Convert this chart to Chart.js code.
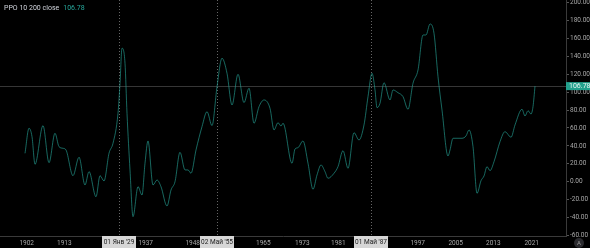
<!DOCTYPE html>
<html><head><meta charset="utf-8">
<style>html,body{margin:0;padding:0;background:#000;}#wrap{width:590px;height:248px;position:relative;}canvas{display:block;}</style>
<script src="https://cdn.jsdelivr.net/npm/chart.js@4/dist/chart.umd.min.js"></script>
</head><body><div id="wrap"><canvas id="c" width="590" height="248"></canvas></div>
<script>
// Series: bar index (TradingView bar-spaced axis) and PPO value
const bars = [0,4,7,10,18,24,30,34,38,41,48,54,60,64,71,75,79,84,88,93,95,97,100,102,105,108,113,117,120,123,128,132,136,142,146,150,155,160,163,166,171,177,182,187,192,197,202,207,213,219,224,229,234,239,245,249,253,256,258,267,270,273,278,283,288,292,296,300,303,309,313,318,323,329,334,339,343,347,350,352,355,359,365,368,373,378,383,388,393,398,401,405,409,413,417,423,425,428,437,441,444,448,452,456,459,462,465,469,475,480,486,490,497,500,503,506,508,510];
const values = [31.7,59.7,50.3,19.4,62.6,21.2,54.1,39.1,37.3,35.4,6.7,27.3,-3.7,11.2,-16.8,6.7,0.8,31.7,42.9,76.4,109.9,149.1,132.3,76.4,13.1,-39.1,-5.6,-14.9,20.6,45.5,-3.7,1.9,-5.6,-27.2,-9.3,0,32.8,13.1,13.1,9.4,35.4,61.5,78.2,62.6,106.1,137.9,121.1,85.7,120,88.3,104.4,65.3,83.8,91.3,82,57.8,65.9,62.2,65.3,20.6,36.5,38,45.5,20.6,-8.5,7.5,18.7,11.2,3.8,9.4,16.8,34.6,15,54.7,46.6,63.4,95,121.1,102.5,82.7,87.6,110.6,91.3,102.5,99.4,95,80.9,110,124.8,163.9,163.9,176.2,165.8,117.3,80.1,28.7,35.4,48.5,48.5,51.1,57.8,39.1,-13,1.1,6.4,16.8,12.3,22.3,44.7,55.9,49.6,63.4,80.9,73.4,79.3,75.6,83.8,106.78];
// X-axis tick labels at bar positions
const tickBars = [1.7,39.3,120.7,167.7,238.3,277.3,313.3,392.7,430.7,468.3,506.7];
const tickLabels = ['1902','1913','1937','1948','1965','1973','1981','1997','2005','2013','2021'];
// Highlighted date markers
const markerBars = [94,192,346];
const markerLabels = ["01 Янв '29","02 Май '55","01 Май '87"];
// Y-axis ticks
const yTicks = [-60,-40,-20,0,20,40,60,80,100,120,140,160,180,200];
const lastValue = 106.78;
const seriesName = 'PPO 10 200 close';

const FONT = 'Roboto, "DejaVu Sans", sans-serif';
const overlay = {
  id: 'overlay',
  beforeDatasetsDraw(chart) {
    const {ctx, chartArea: a, scales: {x, y}} = chart;
    ctx.save();
    ctx.strokeStyle = '#666'; ctx.lineWidth = 1; ctx.setLineDash([1, 2]);
    markerBars.forEach(b => {
      const px = Math.round(x.getPixelForValue(b)) + 0.5;
      ctx.beginPath(); ctx.moveTo(px, a.top); ctx.lineTo(px, a.bottom); ctx.stroke();
    });
    ctx.setLineDash([]);
    const ly = Math.round(y.getPixelForValue(lastValue)) + 0.5;
    ctx.strokeStyle = '#363636';
    ctx.beginPath(); ctx.moveTo(a.left, ly); ctx.lineTo(a.right, ly); ctx.stroke();
    ctx.restore();
  },
  afterDraw(chart) {
    const {ctx, chartArea: a, scales: {x, y}} = chart;
    ctx.save();
    const ly = y.getPixelForValue(lastValue);
    ctx.fillStyle = '#22a08c';
    ctx.fillRect(a.right, ly - 4, chart.width - a.right, 8);
    ctx.fillStyle = '#e8f5f2';
    ctx.font = '7px ' + FONT; ctx.textBaseline = 'middle'; ctx.textAlign = 'left';
    ctx.fillText(lastValue.toFixed(2), a.right + 3, ly + 0.5);
    ctx.textAlign = 'center';
    ctx.font = '6.5px ' + FONT;
    markerBars.forEach((b, i) => {
      const px = x.getPixelForValue(b);
      ctx.fillStyle = '#d6d6d6';
      ctx.fillRect(px - 17, a.bottom, 34, chart.height - a.bottom);
      ctx.fillStyle = '#1a1a1a';
      ctx.fillText(markerLabels[i], px, a.bottom + 6.5);
    });
    ctx.textAlign = 'left';
    ctx.font = '7px ' + FONT;
    ctx.fillStyle = '#d1d4dc';
    ctx.fillText(seriesName, 4, 8.5);
    const w = ctx.measureText(seriesName).width;
    ctx.fillStyle = '#26a69a';
    ctx.fillText(lastValue.toFixed(2), 4 + w + 4, 8.5);
    ctx.fillStyle = '#2a2a2e';
    ctx.beginPath(); ctx.arc(579, 243, 5, 0, Math.PI * 2); ctx.fill();
    ctx.fillStyle = '#9a9a9a'; ctx.textAlign = 'center'; ctx.font = '6px ' + FONT;
    ctx.fillText('A', 579, 243.5);
    ctx.restore();
  }
};

new Chart(document.getElementById('c'), {
  type: 'line',
  data: {
    datasets: [{
      data: bars.map((b, i) => ({x: b, y: values[i]})),
      borderColor: 'rgba(38,166,154,0.62)',
      borderWidth: 1,
      pointRadius: 0,
      cubicInterpolationMode: 'monotone',
      fill: false
    }]
  },
  options: {
    responsive: false,
    animation: false,
    layout: {padding: 0},
    plugins: {legend: {display: false}, tooltip: {enabled: false}},
    scales: {
      x: {
        type: 'linear', min: -25, max: 541, position: 'bottom',
        afterBuildTicks: s => { s.ticks = tickBars.map(v => ({value: v})); },
        afterFit: s => { s.height = 12; s.paddingLeft = 0; s.paddingRight = 0; },
        ticks: {
          autoSkip: false, maxRotation: 0, padding: 3,
          color: '#a8a8a8', font: {size: 6.5, family: FONT},
          callback: (v, i) => tickLabels[i]
        },
        grid: {display: false, drawTicks: false},
        border: {display: true, color: '#3a3a3a'}
      },
      y: {
        type: 'linear', position: 'right', min: -60.7, max: 203,
        afterBuildTicks: s => { s.ticks = yTicks.map(v => ({value: v})); },
        afterFit: s => { s.width = 24; s.paddingTop = 0; s.paddingBottom = 0; },
        ticks: {
          padding: 1, color: '#a8a8a8', font: {size: 6.5, family: FONT},
          callback: v => v.toFixed(2)
        },
        grid: {drawOnChartArea: false, drawTicks: true, tickLength: 3, color: '#555'},
        border: {display: true, color: '#3a3a3a'}
      }
    }
  },
  plugins: [overlay]
});
</script></body></html>
